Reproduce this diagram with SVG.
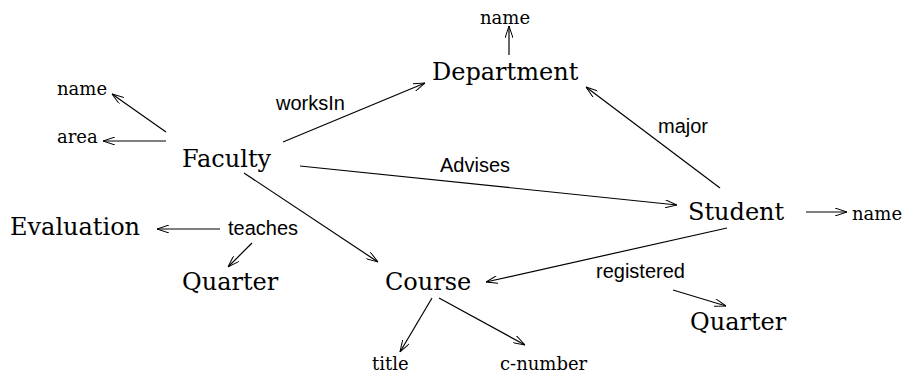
<svg xmlns="http://www.w3.org/2000/svg" width="907" height="377" viewBox="0 0 907 377">
<defs>
<marker id="ah" viewBox="0 0 12 8" refX="12" refY="4" markerWidth="12" markerHeight="8" markerUnits="userSpaceOnUse" orient="auto">
<path d="M0,0 L12,4 L0,8" fill="none" stroke="#000" stroke-width="1"/>
</marker>
<style>
.n{font-family:"DejaVu Serif","Liberation Serif",serif;font-size:24px;fill:#000}
.a{font-family:"DejaVu Serif","Liberation Serif",serif;font-size:18px;fill:#000}
.l{font-family:"Liberation Sans",Arial,sans-serif;font-size:20px;fill:#000}
.c line{stroke:#000;stroke-width:1.2;marker-end:url(#ah)}
</style>
</defs>
<rect width="907" height="377" fill="#fff"/>
<g class="c" id="connectors">
<line x1="509" y1="55" x2="509" y2="26"/>
<line x1="166" y1="132" x2="112" y2="94"/>
<line x1="166" y1="141" x2="103" y2="141"/>
<line x1="283" y1="142" x2="425" y2="83"/>
<line x1="300" y1="166" x2="677" y2="205"/>
<line x1="244" y1="173" x2="378" y2="262"/>
<line x1="720" y1="188" x2="586" y2="87"/>
<line x1="806" y1="212" x2="847" y2="212"/>
<line x1="727" y1="228" x2="486" y2="282"/>
<line x1="673" y1="290" x2="726" y2="306"/>
<line x1="432" y1="298" x2="400" y2="352"/>
<line x1="439" y1="298" x2="525" y2="345"/>
<line x1="220" y1="229" x2="157" y2="229"/>
<line x1="252" y1="243" x2="228" y2="267"/>
</g>
<g id="department"><text class="n" x="432" y="80">Department</text></g>
<g id="dept-name"><text class="a" x="480" y="24">name</text></g>
<g id="faculty"><text class="n" x="182" y="167">Faculty</text></g>
<g id="fac-name"><text class="a" x="57" y="95">name</text></g>
<g id="fac-area"><text class="a" x="57" y="143">area</text></g>
<g id="student"><text class="n" x="688" y="220">Student</text></g>
<g id="stu-name"><text class="a" x="852" y="220">name</text></g>
<g id="course"><text class="n" x="385" y="290">Course</text></g>
<g id="title"><text class="a" x="372" y="370">title</text></g>
<g id="cnumber"><text class="a" x="500" y="370">c-number</text></g>
<g id="evaluation"><text class="n" x="10" y="235">Evaluation</text></g>
<g id="teaches"><text class="l" x="228" y="235">teaches</text></g>
<g id="quarter1"><text class="n" x="182" y="290">Quarter</text></g>
<g id="registered"><text class="l" x="596" y="278">registered</text></g>
<g id="quarter2"><text class="n" x="690" y="330">Quarter</text></g>
<text class="l" x="276" y="110">worksIn</text>
<text class="l" x="440" y="172">Advises</text>
<text class="l" x="658" y="133">major</text>
</svg>
